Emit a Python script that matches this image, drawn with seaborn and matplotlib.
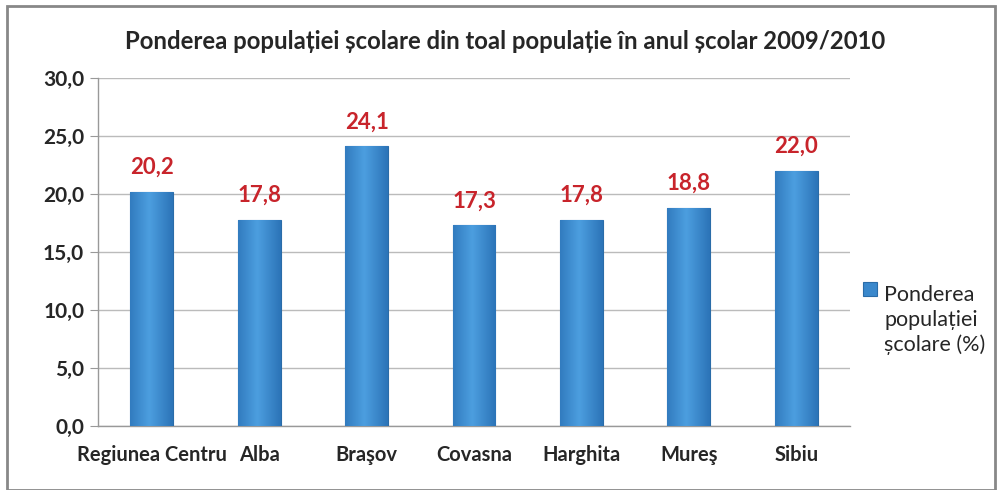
import numpy as np
import pandas as pd
import seaborn as sns
import matplotlib.pyplot as plt
from matplotlib.patches import Rectangle

judete = ['Regiunea Centru', 'Alba', 'Braşov', 'Covasna', 'Harghita', 'Mureş', 'Sibiu']
pondere = [20.2, 17.8, 24.1, 17.3, 17.8, 18.8, 22.0]
y_ticks = [0, 5, 10, 15, 20, 25, 30]
legenda = ['Ponderea', 'populației', 'școlare (%)']

sns.set_style('white')
plt.rcParams['font.family'] = ['Lato', 'DejaVu Sans']

df = pd.DataFrame({'judet': judete, 'pondere': pondere})

fig = plt.figure(figsize=(9.98, 4.9), dpi=100)
ax = fig.add_axes([0.0982, 0.1306, 0.7535, 0.7102])

sns.barplot(data=df, x='judet', y='pondere', color='#3A88CC', width=0.4,
            edgecolor='#2A6CA8', linewidth=0.8, saturation=1, ax=ax, zorder=3)

# gradient pe bare
grad = np.linspace(0, 1, 64).reshape(1, -1)
grad = np.abs(grad - 0.45) * 2
cmap = plt.matplotlib.colors.LinearSegmentedColormap.from_list(
    'bara', ['#4C9EDF', '#2C74B8'])
for p in ax.patches:
    x0, y0 = p.get_x(), p.get_y()
    w, h = p.get_width(), p.get_height()
    im = ax.imshow(grad, cmap=cmap, aspect='auto', extent=[x0, x0 + w, y0, y0 + h],
                   zorder=3.5, interpolation='bicubic')
    im.set_clip_path(p)
    ax.annotate(f'{h:.1f}'.replace('.', ','), (x0 + w / 2, h), xytext=(0, 10),
                textcoords='offset points', ha='center', va='bottom',
                color='#C8242B', fontsize=16, fontweight='bold')

ax.set_xlim(-0.5, len(judete) - 0.5)
ax.set_ylim(0, 30)
ax.set_yticks(y_ticks)
ax.set_yticklabels([f'{v:.1f}'.replace('.', ',') for v in y_ticks],
                   fontsize=15, fontweight='bold')
ax.set_xticks(range(len(judete)))
ax.set_xticklabels(judete, fontsize=14.5, fontweight='bold')
ax.set_xticks(np.arange(-0.5, len(judete)), minor=True)
ax.tick_params(axis='x', which='major', length=0, pad=14)
ax.tick_params(axis='x', which='minor', length=6, color='#999999', direction='out')
ax.tick_params(axis='y', length=6, color='#999999', direction='out', pad=4, left=True)
ax.yaxis.grid(True, color='#BBBBBB', linewidth=1, zorder=0)
ax.set_xlabel('')
ax.set_ylabel('')
for s in ['top', 'right']:
    ax.spines[s].set_visible(False)
for s in ['left', 'bottom']:
    ax.spines[s].set_color('#999999')
    ax.spines[s].set_linewidth(1)

fig.text(0.506, 0.915, 'Ponderea populației școlare din toal populație în anul școlar 2009/2010',
         ha='center', va='center', fontsize=17.2, fontweight='bold')

# legenda
fig.patches.append(Rectangle((0.865, 0.395), 0.014, 0.029, transform=fig.transFigure,
                             facecolor='#3A88CC', edgecolor='#2A6CA8', linewidth=0.8))
fig.text(0.886, 0.418, '\n'.join(legenda), ha='left', va='top', fontsize=15.5,
         linespacing=1.27, transform=fig.transFigure)

fig.patches.append(Rectangle((0.007, 0.0), 0.99, 0.988, transform=fig.transFigure,
                             fill=False, edgecolor='#888888', linewidth=2))

fig.savefig('out.png', dpi=100)
